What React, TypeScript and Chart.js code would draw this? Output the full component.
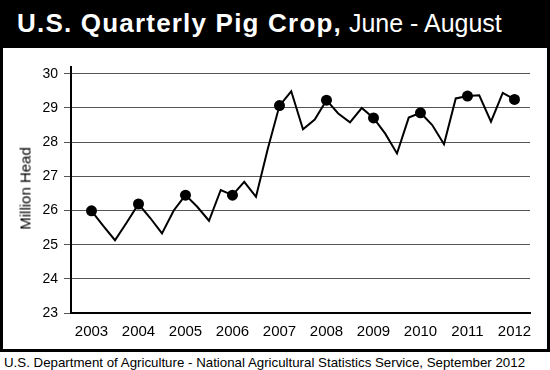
import React, { useEffect, useRef } from 'react';
import { Chart, registerables } from 'chart.js';

Chart.register(...registerables);

const startYear = 2003;
const yearTicks = [2003, 2004, 2005, 2006, 2007, 2008, 2009, 2010, 2011, 2012];
const yTicks = [23, 24, 25, 26, 27, 28, 29, 30];
// Quarterly pig crop (million head), starting June-August 2003
const pigCrop = [
  25.99, 25.55, 25.13, 25.65,
  26.19, 25.78, 25.33, 26.0,
  26.45, 26.11, 25.7, 26.6,
  26.45, 26.84, 26.4, 27.8,
  29.07, 29.49, 28.38, 28.66,
  29.23, 28.84, 28.58, 29.0,
  28.71, 28.25, 27.67, 28.72,
  28.86, 28.5, 27.94, 29.28,
  29.35, 29.37, 28.6, 29.44,
  29.25,
];

const FONT = '"Liberation Sans", Arial, Helvetica, sans-serif';

export default function App() {
  const ref = useRef<HTMLCanvasElement>(null);

  useEffect(() => {
    if (!ref.current) return;
    const data = pigCrop.map((v, i) => ({ x: startYear + i / 4, y: v }));
    const chart = new Chart(ref.current, {
      type: 'line',
      data: {
        datasets: [
          {
            data,
            borderColor: '#000',
            borderWidth: 2,
            tension: 0,
            fill: false,
            pointRadius: (ctx: any) => (ctx.dataIndex % 4 === 0 ? 5.5 : 0),
            pointHoverRadius: 0,
            pointBackgroundColor: '#000',
            pointBorderWidth: 0,
          },
        ],
      },
      options: {
        animation: false,
        responsive: false,
        maintainAspectRatio: false,
        layout: { padding: { left: 0, right: 17, top: 19, bottom: 0 } },
        plugins: {
          legend: { display: false },
          tooltip: { enabled: false },
        },
        scales: {
          x: {
            type: 'linear',
            min: 2002.564,
            max: 2012.33,
            grid: { display: false, drawTicks: false },
            border: { color: '#000', width: 2 },
            ticks: {
              padding: 10,
              color: '#000',
              font: { family: FONT, size: 15 },
              callback: (v: any) => String(v),
            },
            afterBuildTicks: (s: any) => {
              s.ticks = yearTicks.map((v) => ({ value: v }));
            },
            afterFit: (s: any) => {
              s.height = 36;
            },
          },
          y: {
            type: 'linear',
            min: 23,
            max: 30.2,
            grid: { color: '#555', lineWidth: 1, tickLength: 7 },
            border: { color: '#000', width: 2 },
            ticks: {
              padding: 6,
              color: '#000',
              font: { family: FONT, size: 14 },
              callback: (v: any) => String(v),
            },
            afterBuildTicks: (s: any) => {
              s.ticks = yTicks.map((v) => ({ value: v }));
            },
            afterFit: (s: any) => {
              s.width = 68;
            },
          },
        },
      },
    });
    return () => chart.destroy();
  }, []);

  return (
    <div
      style={{
        position: 'fixed',
        left: 0,
        top: 0,
        width: 550,
        height: 370,
        background: '#fff',
        fontFamily: FONT,
        overflow: 'hidden',
      }}
    >
      <div
        style={{
          position: 'absolute',
          left: 0,
          top: 0,
          width: 550,
          height: 352,
          border: '3px solid #000',
          boxSizing: 'border-box',
        }}
      />
      <div
        style={{
          position: 'absolute',
          left: 0,
          top: 0,
          width: 550,
          height: 48,
          background: '#000',
        }}
      />
      <div
        style={{
          position: 'absolute',
          left: 17,
          top: 10,
          height: 26,
          lineHeight: '26px',
          fontSize: 25,
          color: '#fff',
          whiteSpace: 'nowrap',
        }}
      >
        <span style={{ fontWeight: 'bold', fontSize: 26, letterSpacing: 1.2 }}>U.S. Quarterly Pig Crop,</span>
        <span> June - August</span>
      </div>
      <canvas
        ref={ref}
        width={544}
        height={301}
        style={{ position: 'absolute', left: 3, top: 48, width: 544, height: 301 }}
      />
      <div
        style={{
          position: 'absolute',
          left: 25 - 60,
          top: 188 - 7.5,
          width: 120,
          height: 15,
          lineHeight: '15px',
          fontSize: 15,
          fontWeight: 'normal',
          textAlign: 'center',
          color: '#000',
          transform: 'rotate(-90deg)',
          transformOrigin: 'center center',
          whiteSpace: 'nowrap',
        }}
      >
        Million Head
      </div>
      <div
        style={{
          position: 'absolute',
          left: 4,
          top: 355.7,
          height: 13.3,
          lineHeight: '13.3px',
          fontSize: 13.3,
          color: '#000',
          whiteSpace: 'nowrap',
        }}
      >
        U.S. Department of Agriculture - National Agricultural Statistics Service, September 2012
      </div>
    </div>
  );
}
